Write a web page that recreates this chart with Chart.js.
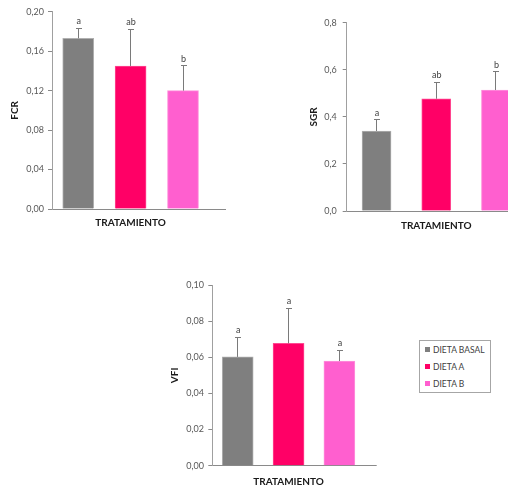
<!DOCTYPE html>
<html>
<head>
<meta charset="utf-8">
<script src="https://cdn.jsdelivr.net/npm/chart.js@4.4.1/dist/chart.umd.min.js"></script>
<style>
html,body{margin:0;padding:0;background:#fff;}
body{width:508px;height:486px;overflow:hidden;position:relative;font-family:Lato,"DejaVu Sans",sans-serif;}
canvas{position:absolute;display:block;}
#legend{position:absolute;left:419px;top:340px;width:70px;height:51px;border:1px solid #a6a6a6;background:#fff;}
#legend .it{position:absolute;left:5px;height:12px;line-height:12px;font-size:8.5px;color:#404040;white-space:nowrap;}
#legend .sw{display:inline-block;width:5px;height:5px;margin-right:3px;vertical-align:1px;}
</style>
</head>
<body>
<canvas id="cFCR" width="240" height="236" style="left:0px;top:0px"></canvas>
<canvas id="cSGR" width="240" height="236" style="left:295px;top:0px"></canvas>
<canvas id="cVFI" width="230" height="220" style="left:160px;top:270px"></canvas>
<div id="legend"></div>
<script>
// ---- data ----
const categories = ['DIETA BASAL', 'DIETA A', 'DIETA B'];
const barColors = ['#7f7f7f', '#ff0066', '#ff5fcf'];
const barBorders = ['#b0b0b0', '#ff4a92', '#ff90dc'];
const xTitle = 'TRATAMIENTO';

const fcrValues = [0.173, 0.145, 0.120];
const fcrSD = [0.010, 0.037, 0.025];
const fcrLetters = ['a', 'ab', 'b'];
const fcrTicks = ['0,00', '0,04', '0,08', '0,12', '0,16', '0,20'];

const sgrValues = [0.340, 0.477, 0.514];
const sgrSD = [0.047, 0.071, 0.077];
const sgrLetters = ['a', 'ab', 'b'];
const sgrTicks = ['0,0', '0,2', '0,4', '0,6', '0,8'];

const vfiValues = [0.0602, 0.0677, 0.0579];
const vfiSD = [0.0110, 0.0194, 0.0060];
const vfiLetters = ['a', 'a', 'a'];
const vfiTicks = ['0,00', '0,02', '0,04', '0,06', '0,08', '0,10'];

// ---- plugins ----
function alignPx(p){ return Math.round(p - 0.5) + 0.5; }

const errorPlugin = {
  id: 'errorLetters',
  afterDatasetsDraw(chart, args, opts) {
    const ctx = chart.ctx;
    const meta = chart.getDatasetMeta(0);
    const ys = chart.scales.y;
    ctx.save();
    meta.data.forEach((bar, i) => {
      const v = opts.values[i], sd = opts.sd[i];
      const x = alignPx(bar.x);
      const yb = ys.getPixelForValue(v);
      const yt = ys.getPixelForValue(v + sd);
      ctx.strokeStyle = '#7a7a7a';
      ctx.lineWidth = 1;
      ctx.beginPath();
      ctx.moveTo(x, yb);
      ctx.lineTo(x, alignPx(yt));
      ctx.moveTo(x - 2.5, alignPx(yt));
      ctx.lineTo(x + 3.5, alignPx(yt));
      ctx.stroke();
      ctx.fillStyle = '#404040';
      ctx.font = '9px Lato, "DejaVu Sans", sans-serif';
      ctx.textAlign = 'center';
      ctx.textBaseline = 'alphabetic';
      ctx.fillText(opts.letters[i], bar.x + 0.5, yt - 4);
    });
    ctx.restore();
  }
};

const axisExtPlugin = {
  id: 'axisExt',
  afterDraw(chart, args, opts) {
    if (!opts.to) return;
    const ca = chart.chartArea;
    const ctx = chart.ctx;
    ctx.save();
    ctx.strokeStyle = '#8a8a8a';
    ctx.lineWidth = 1;
    const y = alignPx(ca.bottom);
    ctx.beginPath();
    ctx.moveTo(ca.right - 1, y);
    ctx.lineTo(opts.to, y);
    ctx.stroke();
    ctx.restore();
  }
};

function makeChart(id, cfg) {
  const ctx = document.getElementById(id);
  return new Chart(ctx, {
    type: 'bar',
    data: {
      labels: categories,
      datasets: [{
        data: cfg.values,
        backgroundColor: barColors,
        borderColor: barBorders,
        borderWidth: 1,
        barThickness: cfg.barW
      }]
    },
    options: {
      responsive: false,
      animation: false,
      devicePixelRatio: 1,
      layout: { padding: cfg.pad },
      plugins: {
        legend: { display: false },
        tooltip: { enabled: false },
        errorLetters: { values: cfg.values, sd: cfg.sd, letters: cfg.letters },
        axisExt: { to: cfg.extTo }
      },
      scales: {
        x: {
          type: 'category',
          offset: true,
          grid: { display: false },
          border: { display: true, color: '#8a8a8a', width: 1 },
          ticks: { display: false },
          title: {
            display: true, text: xTitle, color: '#1a1a1a',
            font: { family: 'Lato', size: 10, weight: 'bold', lineHeight: 1.2 },
            padding: { top: 0, bottom: 0 }
          },
          afterFit(s) { s.height = cfg.xH; }
        },
        y: {
          type: 'linear',
          min: 0, max: cfg.yMax,
          ticks: {
            stepSize: cfg.yStep,
            padding: cfg.tickPad,
            color: '#595959',
            font: { family: 'Lato', size: 9 },
            callback: (v, i) => cfg.ticks[i]
          },
          grid: { display: true, drawOnChartArea: false, drawTicks: true, tickLength: 4, color: '#8a8a8a' },
          border: { display: true, color: '#a0a0a0', width: 1 },
          title: {
            display: true, text: cfg.yTitle, color: '#1a1a1a',
            font: { family: 'Lato', size: 10, weight: 'bold', lineHeight: 1.2 },
            padding: { top: cfg.yTitlePad, bottom: 0 }
          },
          afterFit(s) { s.width = cfg.yW; }
        }
      }
    },
    plugins: [errorPlugin, axisExtPlugin]
  });
}

makeChart('cFCR', {
  values: fcrValues, sd: fcrSD, letters: fcrLetters, ticks: fcrTicks,
  yMax: 0.2, yStep: 0.04, yTitle: 'FCR',
  barW: 31, yW: 52, tickPad: 4, yTitlePad: 9, xH: 20,
  pad: { left: 0, top: 11.7, right: 30.8, bottom: 7 },
  extTo: 226
});

makeChart('cSGR', {
  values: sgrValues, sd: sgrSD, letters: sgrLetters, ticks: sgrTicks,
  yMax: 0.8, yStep: 0.2, yTitle: 'SGR',
  barW: 29, yW: 51.7, tickPad: 6, yTitlePad: 13, xH: 21,
  pad: { left: 0, top: 22.7, right: 9.2, bottom: 4 },
  extTo: 0
});

makeChart('cVFI', {
  values: vfiValues, sd: vfiSD, letters: vfiLetters, ticks: vfiTicks,
  yMax: 0.1, yStep: 0.02, yTitle: 'VFI',
  barW: 31, yW: 52.3, tickPad: 4.3, yTitlePad: 9, xH: 22,
  pad: { left: 0, top: 15, right: 25.2, bottom: 2.3 },
  extTo: 216.7
});

// ---- legend ----
const leg = document.getElementById('legend');
const legTops = [3, 20, 37];
categories.forEach((c, i) => {
  const d = document.createElement('div');
  d.className = 'it';
  d.style.top = legTops[i] + 'px';
  const sw = document.createElement('span');
  sw.className = 'sw';
  sw.style.background = barColors[i];
  d.appendChild(sw);
  d.appendChild(document.createTextNode(c));
  leg.appendChild(d);
});
</script>
</body>
</html>
